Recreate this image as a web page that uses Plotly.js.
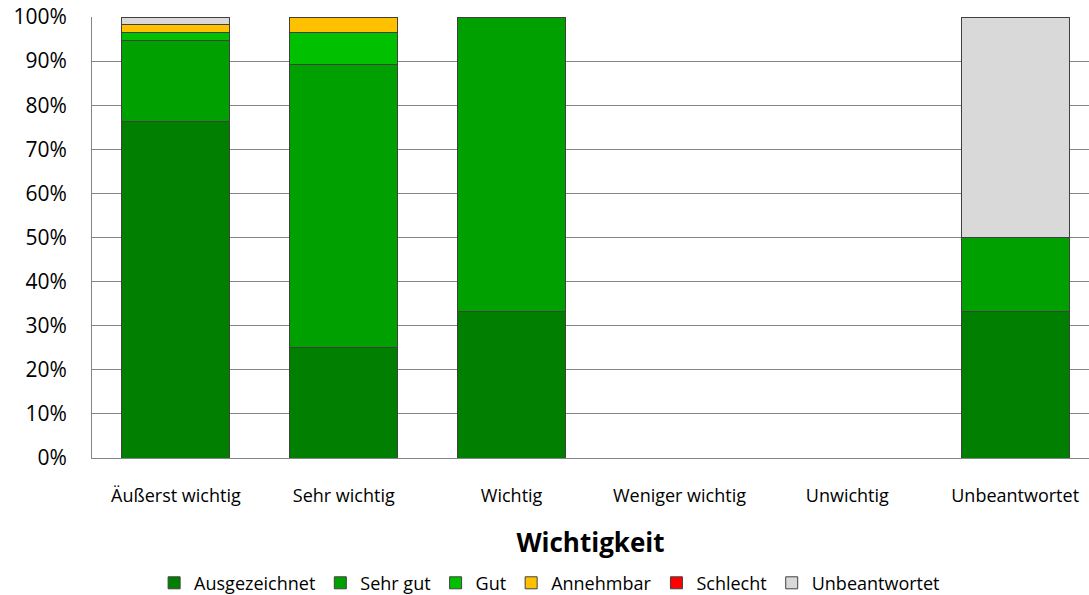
<!DOCTYPE html>
<html>
<head>
<meta charset="utf-8">
<script src="https://cdn.plot.ly/plotly-3.0.1.min.js"></script>
<style>html,body{margin:0;padding:0;background:#fff;}#chart{width:1089px;height:595px;}</style>
</head>
<body>
<div id="chart"></div>
<script>
const categories = ["Äußerst wichtig", "Sehr wichtig", "Wichtig", "Weniger wichtig", "Unwichtig", "Unbeantwortet"];
const seriesNames = ["Ausgezeichnet", "Sehr gut", "Gut", "Annehmbar", "Schlecht", "Unbeantwortet"];
const ausgezeichnet = [0.764, 0.250, 0.333, 0, 0, 0.333];
const sehrGut       = [0.182, 0.643, 0.667, 0, 0, 0.167];
const gut           = [0.018, 0.071, 0, 0, 0, 0];
const annehmbar     = [0.018, 0.036, 0, 0, 0, 0];
const schlecht      = [0, 0, 0, 0, 0, 0];
const unbeantwortet = [0.018, 0, 0, 0, 0, 0.500];
const colors = ["#007f00", "#00a000", "#00c000", "#ffc000", "#ff0000", "#d9d9d9"];
const values = [ausgezeichnet, sehrGut, gut, annehmbar, schlecht, unbeantwortet];

const font = "'Open Sans', sans-serif";
const traces = seriesNames.map((name, i) => ({
  type: "bar",
  name: name,
  x: categories,
  y: values[i],
  marker: {color: colors[i], line: {color: "#404040", width: 1}},
  hoverinfo: "none"
}));

const layout = {
  width: 1089, height: 595,
  margin: {l: 92, r: 0, t: 17, b: 137},
  barmode: "stack",
  bargap: 0.356,
  paper_bgcolor: "#fff",
  plot_bgcolor: "#fff",
  font: {family: font, color: "#000"},
  xaxis: {
    type: "category",
    range: [-0.5, 5.44],
    showgrid: false,
    showline: true, linecolor: "#868686", linewidth: 1,
    ticks: "", tickfont: {size: 18, family: font},
    ticklabelstandoff: 21,
    title: {text: "Wichtigkeit", font: {size: 26, family: font, weight: "bold"}, standoff: 28},
    automargin: false
  },
  yaxis: {
    range: [0, 1],
    dtick: 0.1,
    tickformat: ".0%",
    showgrid: true, gridcolor: "#868686", gridwidth: 1,
    showline: true, linecolor: "#868686", linewidth: 1,
    zeroline: false,
    ticks: "", tickfont: {size: 21, family: font},
    ticklabelstandoff: 20,
    automargin: false
  },
  legend: {
    orientation: "h",
    x: 0.459, xanchor: "center",
    yref: "container",
    y: 0.02, yanchor: "middle",
    font: {size: 18, family: font},
    traceorder: "normal",
    itemwidth: 30
  },
  showlegend: true
};

Plotly.newPlot("chart", traces, layout, {staticPlot: true});
</script>
</body>
</html>
